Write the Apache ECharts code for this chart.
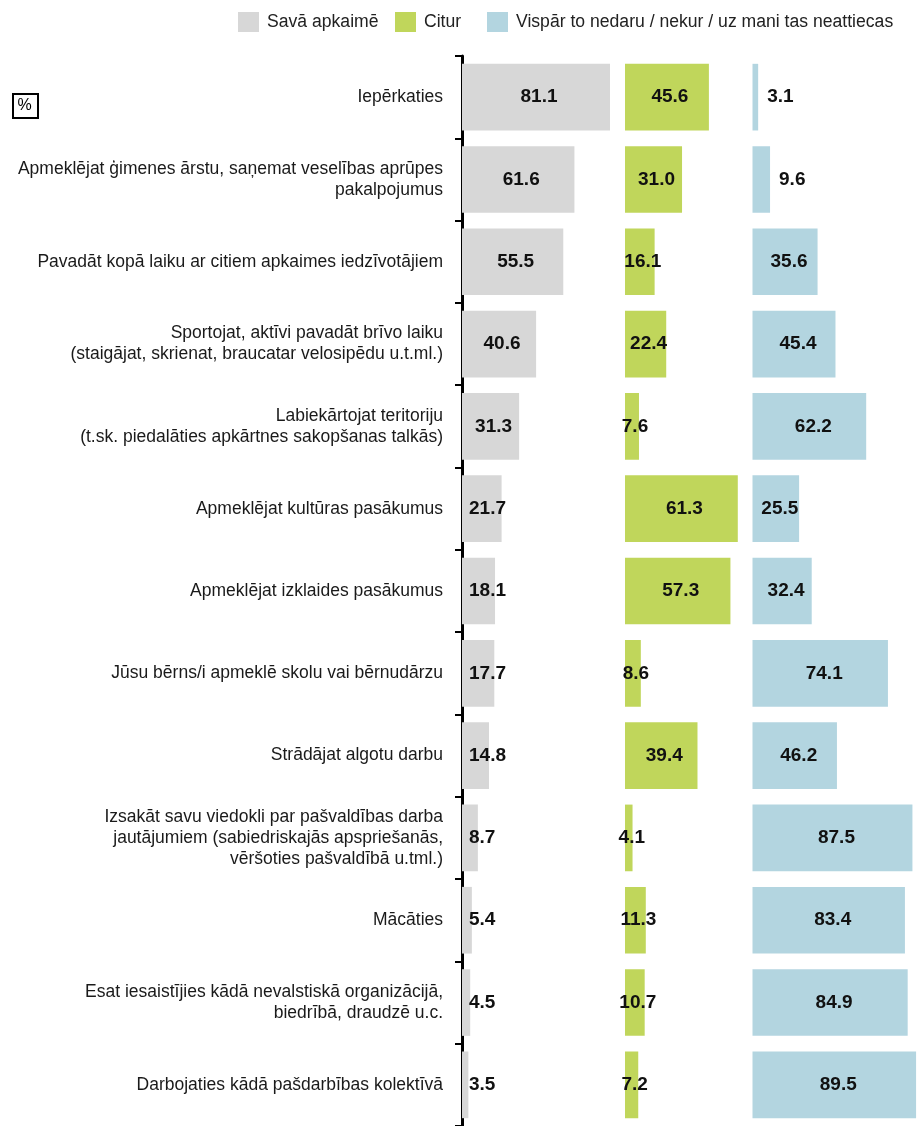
<!DOCTYPE html>
<html>
<head>
<meta charset="utf-8">
<script src="https://cdn.jsdelivr.net/npm/echarts@6/dist/echarts.min.js"></script>
<style>
  html, body { margin: 0; padding: 0; background: #fff; }
  #chart { width: 917px; height: 1126px; }
</style>
</head>
<body>
<div id="chart"></div>
<script>
// kategorijas (no augšas uz leju)
const categories = [
  'Iepērkaties',
  'Apmeklējat ģimenes ārstu, saņemat veselības aprūpes\npakalpojumus',
  'Pavadāt kopā laiku ar citiem apkaimes iedzīvotājiem',
  'Sportojat, aktīvi pavadāt brīvo laiku\n(staigājat, skrienat, braucatar velosipēdu u.t.ml.)',
  'Labiekārtojat teritoriju\n(t.sk. piedalāties apkārtnes sakopšanas talkās)',
  'Apmeklējat kultūras pasākumus',
  'Apmeklējat izklaides pasākumus',
  'Jūsu bērns/i apmeklē skolu vai bērnudārzu',
  'Strādājat algotu darbu',
  'Izsakāt savu viedokli par pašvaldības darba\njautājumiem (sabiedriskajās apspriešanās,\nvēršoties pašvaldībā u.tml.)',
  'Mācāties',
  'Esat iesaistījies kādā nevalstiskā organizācijā,\nbiedrībā, draudzē u.c.',
  'Darbojaties kādā pašdarbības kolektīvā'
]

const seriesNames = ['Savā apkaimē', 'Citur', 'Vispār to nedaru / nekur / uz mani tas neattiecas']

const localValues = [81.1, 61.6, 55.5, 40.6, 31.3, 21.7, 18.1, 17.7, 14.8, 8.7, 5.4, 4.5, 3.5]
const elsewhereValues = [45.6, 31.0, 16.1, 22.4, 7.6, 61.3, 57.3, 8.6, 39.4, 4.1, 11.3, 10.7, 7.2]
const neverValues = [3.1, 9.6, 35.6, 45.4, 62.2, 25.5, 32.4, 74.1, 46.2, 87.5, 83.4, 84.9, 89.5]

const colors = ['#d7d7d7', '#c0d65b', '#b3d5e0']
const FONT = '"Liberation Sans", Arial, sans-serif'

const chart = echarts.init(document.getElementById('chart'), null, { renderer: 'canvas' })

// katram panelim sava skala (px uz vienību)
const panels = [
  { left: 462, max: 88, k: 1.825 },
  { left: 625, max: 68, k: 1.84 },
  { left: 752.5, max: 90, k: 1.865 }
]
const TOP = 56
const HEIGHT = 1071

const baseLabel = {
  show: true,
  color: '#111',
  fontFamily: FONT,
  fontWeight: 'bold',
  fontSize: 19,
  formatter: p => p.value.toFixed(1)
}

function items(values, smallLabel) {
  return values.map(v => {
    const small = smallLabel(v)
    return small ? { value: v, label: small } : { value: v }
  })
}

const seriesData = [
  items(localValues, v => (v < 25 ? { position: 'insideLeft', distance: 7, offset: [0, 0] } : null)),
  items(elsewhereValues, () => null),
  items(neverValues, v => (v < 15 ? { position: 'right', distance: 9, offset: [0, 0] } : null))
]
const labelOffsets = [[3, 0], [3, 0], [4, 0]]

const legends = [238, 395, 487].map((left, i) => ({
  left,
  top: 12,
  data: [seriesNames[i]],
  icon: 'rect',
  itemWidth: 21,
  itemHeight: 20,
  selectedMode: false,
  padding: 0,
  textStyle: { fontFamily: FONT, fontSize: 17.6, color: '#222', padding: [0, 0, 0, 3] }
}))

chart.setOption({
  backgroundColor: '#fff',
  animation: false,
  legend: legends,
  grid: panels.map(p => ({ left: p.left, top: TOP, width: p.max * p.k, height: HEIGHT, containLabel: false })),
  xAxis: panels.map((p, i) => ({ type: 'value', gridIndex: i, min: 0, max: p.max, show: false })),
  yAxis: panels.map((p, i) => ({
    type: 'category',
    gridIndex: i,
    data: categories,
    inverse: true,
    show: i === 0,
    offset: 2,
    axisLine: { show: true, lineStyle: { color: '#000', width: 3 } },
    axisTick: { show: true, length: 7, lineStyle: { color: '#000', width: 2 } },
    axisLabel: {
      margin: 17,
      fontFamily: FONT,
      fontSize: 17.5,
      lineHeight: 21,
      color: '#1a1a1a',
      align: 'right'
    },
    splitLine: { show: false }
  })),
  series: seriesNames.map((name, i) => ({
    name,
    type: 'bar',
    xAxisIndex: i,
    yAxisIndex: i,
    data: seriesData[i],
    barCategoryGap: '19%',
    itemStyle: { color: colors[i] },
    label: Object.assign({}, baseLabel, { position: 'inside', offset: labelOffsets[i] })
  })),
  graphic: [
    {
      type: 'rect',
      left: 12,
      top: 93,
      shape: { width: 25, height: 24 },
      style: { fill: '#fff', stroke: '#000', lineWidth: 2 }
    },
    {
      type: 'text',
      x: 24.5,
      y: 105.5,
      style: { text: '%', fontFamily: FONT, fontSize: 16, fill: '#000', align: 'center', verticalAlign: 'middle' }
    }
  ]
})
</script>
</body>
</html>
